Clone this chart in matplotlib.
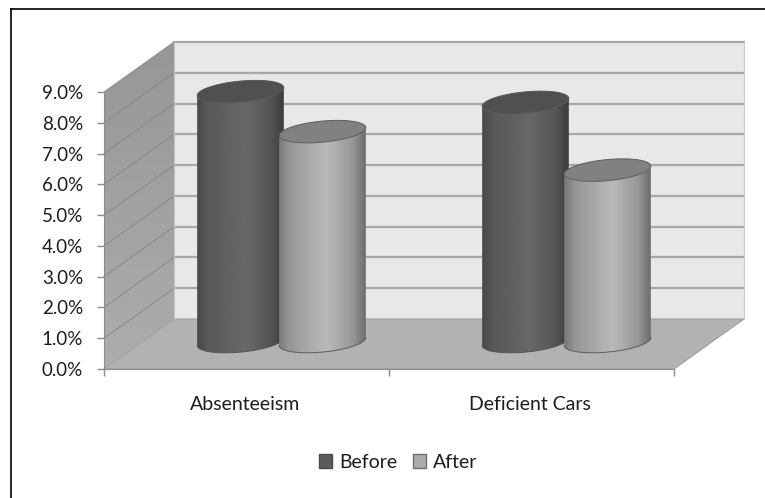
#!/usr/bin/env python3
"""3D-look cylinder chart: absenteeism and deficient cars, before / after."""

import matplotlib
matplotlib.use("Agg")
import matplotlib.pyplot as plt
import numpy as np
from matplotlib.lines import Line2D
from matplotlib.patches import Patch, PathPatch, Polygon
from matplotlib.path import Path

categories = ["Absenteeism", "Deficient Cars"]
series_names = ["Before", "After"]
before = [8.12, 7.77]
after = [6.82, 5.57]
y_ticks = [0, 1, 2, 3, 4, 5, 6, 7, 8, 9]
y_tick_labels = ["0.0%", "1.0%", "2.0%", "3.0%", "4.0%", "5.0%", "6.0%", "7.0%", "8.0%", "9.0%"]

W, H = 765, 498
FRONT_L, FRONT_R, FRONT_B, FRONT_T = 104, 674, 369, 92
PX_X = (FRONT_R - FRONT_L) / len(categories)   # pixels per category
PX_Y = (FRONT_B - FRONT_T) / 9.0               # pixels per percent
DX = 70 / PX_X    # depth offset, data units
DY = 50 / PX_Y

plt.rcParams["font.family"] = ["Lato", "DejaVu Sans"]

fig = plt.figure(figsize=(W / 100, H / 100), dpi=100)
ax = fig.add_axes([FRONT_L / W, 1 - FRONT_B / H, (FRONT_R - FRONT_L) / W, (FRONT_B - FRONT_T) / H])

A, B, TILT = 43.5, 10.5, np.radians(5.5)
T0 = np.arctan2(-B * np.sin(TILT), A * np.cos(TILT))   # where the ellipse reaches its far right


def tilted_ellipse(cx, cy, t):
    """Ellipse points in data units, 87x21 px with a slight tilt."""
    px = A * np.cos(t) * np.cos(TILT) - B * np.sin(t) * np.sin(TILT)
    py = A * np.cos(t) * np.sin(TILT) + B * np.sin(t) * np.cos(TILT)
    return cx + px / PX_X, cy + py / PX_Y


def draw_cylinder(cx, value, shades, top_color, edge, z):
    base = DY / 2 + 0.08
    # body outline: round the bottom, then back along the front arc of the top
    xb, yb = tilted_ellipse(cx, base, np.linspace(np.pi + T0, 2 * np.pi + T0, 60))
    xt, yt = tilted_ellipse(cx, value + base, np.linspace(2 * np.pi + T0, np.pi + T0, 60))
    verts = np.column_stack([np.r_[xb, xt], np.r_[yb, yt]])
    body = Polygon(verts, closed=True, facecolor="none", edgecolor="none", transform=ax.transData)
    ax.add_patch(body)
    grad = np.interp(np.linspace(0, 1, 128), [0, 0.12, 0.55, 0.85, 1], shades)[None, :]
    half = 44 / PX_X
    im = ax.imshow(grad, cmap="gray", vmin=0, vmax=255, aspect="auto", zorder=z,
                   extent=[cx - half, cx + half, base - 1, value + base + 1])
    im.set_clip_path(body)
    im.set_clip_box(fig.bbox)
    ax.plot(verts[:60, 0], verts[:60, 1], color=edge, lw=0.7, zorder=z + 0.1, clip_on=False)
    xc, yc = tilted_ellipse(cx, value + base, np.linspace(0, 2 * np.pi, 120))
    ax.add_patch(PathPatch(Path(np.column_stack([xc, yc])), facecolor=top_color, edgecolor=edge,
                           lw=0.7, zorder=z + 0.2, clip_on=False))


# walls and floor
ax.add_patch(Polygon([[DX, DY], [2 + DX, DY], [2 + DX, 9 + DY], [DX, 9 + DY]],
                     facecolor="#e8e8e8", edgecolor="none", zorder=1, clip_on=False))
side = Polygon([[0, 0], [DX, DY], [DX, 9 + DY], [0, 9]], facecolor="none", edgecolor="none",
               clip_on=False, transform=ax.transData)
ax.add_patch(side)
side_im = ax.imshow(np.linspace(150, 172, 64)[:, None], cmap="gray", vmin=0, vmax=255, aspect="auto",
                    origin="upper", extent=[0, DX, 0, 9 + DY], zorder=1)
side_im.set_clip_path(side)
side_im.set_clip_box(fig.bbox)
ax.add_patch(Polygon([[0, 0], [2, 0], [2 + DX, DY], [DX, DY]],
                     facecolor="#b2b2b2", edgecolor="#a0a0a0", lw=0.8, zorder=1.5, clip_on=False))
for v in y_ticks:
    if v > 0:
        ax.plot([DX, 2 + DX], [v + DY, v + DY], color="#a8a8a8", lw=1.6, zorder=2, clip_on=False)
        ax.plot([0, DX], [v, v + DY], color="#858585", lw=0.6, zorder=2, clip_on=False)
ax.plot([DX, DX], [DY, 9 + DY], color="#c4c4c4", lw=0.8, zorder=2, clip_on=False)
ax.plot([2 + DX, 2 + DX], [DY, 9 + DY], color="#cccccc", lw=0.8, zorder=2, clip_on=False)

# cylinders
offset = 41 / PX_X
for i, (b, a) in enumerate(zip(before, after)):
    center = i + 0.5 + DX / 2
    draw_cylinder(center - offset, b, [70, 88, 104, 84, 58], "#505050", "#555555", 3)
    draw_cylinder(center + offset, a, [120, 150, 186, 150, 105], "#818181", "#5c5c5c", 4)

ax.set_xlim(0, 2)
ax.set_ylim(0, 9)
ax.patch.set_visible(False)
for name in ("top", "right"):
    ax.spines[name].set_visible(False)
for name in ("left", "bottom"):
    ax.spines[name].set_color("#8c8c8c")
ax.set_yticks(y_ticks)
ax.set_yticklabels(y_tick_labels, fontsize=13.5, color="#1c1c1c")
ax.set_xticks([0, 1, 2])
ax.set_xticklabels([])
ax.tick_params(axis="both", color="#8c8c8c", length=5, width=1)
ax.tick_params(axis="y", pad=10)
for i, name in enumerate(categories):
    ax.annotate(name, (i + 0.5, 0), xytext=(-1.5, -36), textcoords="offset pixels", ha="center",
                va="center", fontsize=14, color="#1c1c1c", annotation_clip=False)

# legend
handles = [Patch(facecolor="#5c5c5c", edgecolor="#4a4a4a", label=series_names[0]),
           Patch(facecolor="#ababab", edgecolor="#6e6e6e", label=series_names[1])]
fig.legend(handles=handles, loc="center", bbox_to_anchor=(398 / W, 1 - 462 / H), ncol=2, frameon=False,
           fontsize=14, handlelength=0.7, handleheight=0.7, handletextpad=0.35, columnspacing=0.8,
           labelcolor="#1c1c1c")

# picture frame: only the top and left edges show
fig.add_artist(Line2D([10.5 / W, 10.5 / W], [0, 1 - 9 / H], color="black", lw=1.2))
fig.add_artist(Line2D([10.5 / W, 1], [1 - 9 / H, 1 - 9 / H], color="black", lw=1.2))

fig.savefig("out.png", dpi=100)
